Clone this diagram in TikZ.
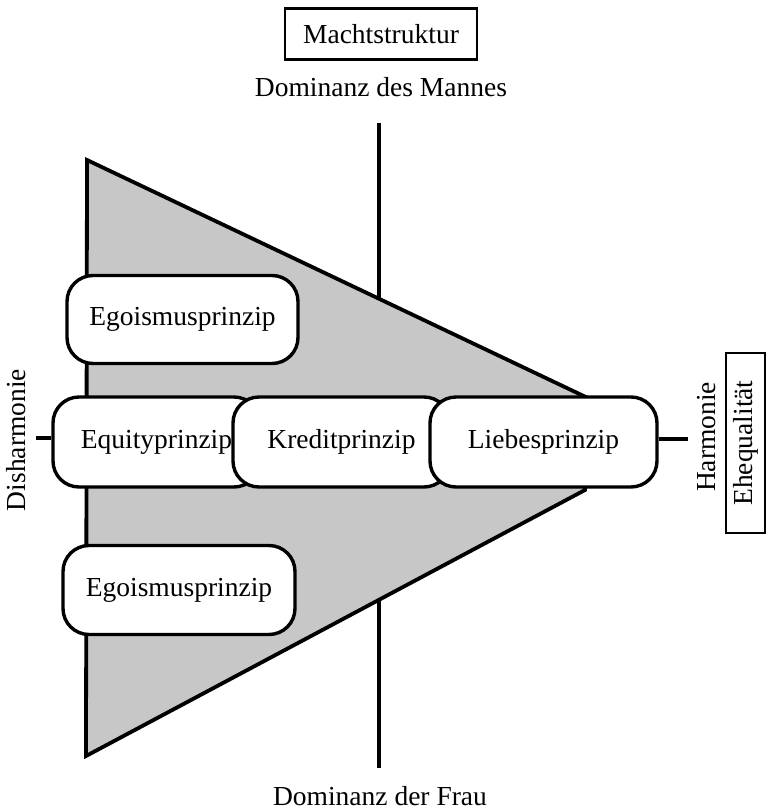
\documentclass[tikz,border=0pt]{standalone}
\usepackage{fontspec}
\setmainfont{Liberation Serif}
\newcommand\dgfont{\fontsize{27.5}{32}\selectfont}
\begin{document}
\begin{tikzpicture}[x=1pt,y=-1pt,
  every node/.style={font=\dgfont, inner sep=0pt},
  prinzip/.style={draw, line width=3.4pt, fill=white, rounded corners=26pt, minimum height=90pt},
  frame/.style={draw, line width=2.4pt},
  axis/.style={line width=3.8pt},
  wedge/.style={draw, line width=3.8pt, line join=miter, fill=black!22}]
\useasboundingbox (0,0) rectangle (766,811);
% top labels
\node[frame, minimum width=192pt, minimum height=51pt] (macht) at (381,34) {Machtstruktur};
\node (mann) at (381,87) {Dominanz des Mannes};
\node (frau) at (380,796) {Dominanz der Frau};
% vertical axis
\coordinate (vtop) at (379,123);
\coordinate (vbot) at (379,768);
\draw[axis] (vtop) -- (vbot);
% wedge
\coordinate (t1) at (87,160);
\coordinate (t2) at (590,399);
\coordinate (t3) at (585,490);
\coordinate (t4) at (86,756);
\draw[wedge] (t1) -- (t2) -- (t3) -- (t4) -- cycle;
% side connectors
\coordinate (lstub) at (36,438);
\coordinate (rstub) at (688,439);
% boxes
\node[prinzip, minimum width=231pt, minimum height=88pt] (ego1) at (182.5,319.5) {Egoismusprinzip};
\node[prinzip, minimum width=232pt, minimum height=89pt] (ego2) at (179,590) {Egoismusprinzip};
\node[prinzip, minimum width=207pt] (equity) at (156.5,442) {Equityprinzip};
\node[prinzip, minimum width=217pt] (kredit) at (341.5,442) {Kreditprinzip};
\node[prinzip, minimum width=227pt] (liebe) at (543.5,442) {Liebesprinzip};
\draw[axis] (lstub) -- (lstub -| equity.west);
\draw[axis] (liebe.east |- rstub) -- (rstub);
% side labels
\node[rotate=90] (dis) at (16,440) {Disharmonie};
\node[rotate=90] (harm) at (707,437) {Harmonie};
\node[frame, rotate=90, minimum width=180pt, minimum height=39pt] (ehe) at (745.5,443) {Ehequalität};
\end{tikzpicture}
\end{document}
